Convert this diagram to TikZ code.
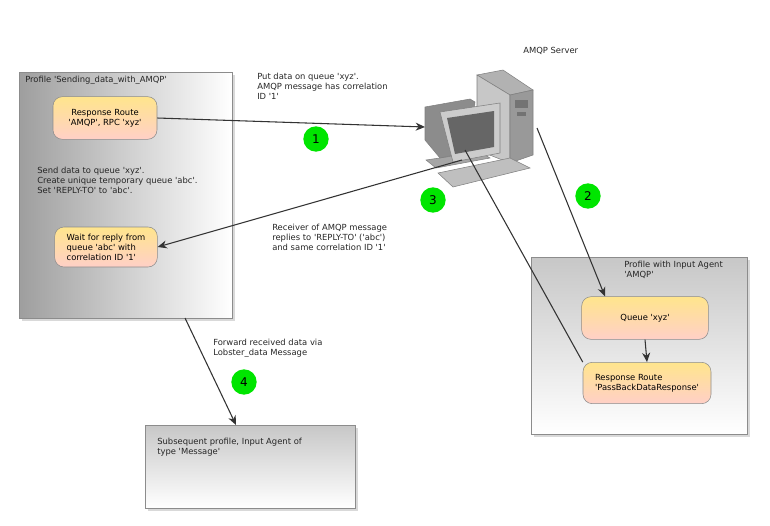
\documentclass[tikz,border=0pt]{standalone}
\usepackage{fontspec}
\setmainfont{DejaVu Sans}
\usetikzlibrary{arrows.meta,shadows}
\newcommand\sq{\textquotesingle}
\begin{document}
\begin{tikzpicture}[x=0.75pt,y=-0.75pt,
  txt/.style={font=\fontsize{6.3}{7.6}\selectfont,align=left,inner sep=0,text=black!85},
  prof/.style={draw=black!45,left color=black!38,right color=white,drop shadow={shadow xshift=2pt,shadow yshift=-2pt,opacity=0.3}},
  prof2/.style={draw=black!45,top color=black!22,bottom color=white,drop shadow={shadow xshift=2pt,shadow yshift=-2pt,opacity=0.3}},
  act/.style={draw=black!45,rounded corners=7pt,top color=yellow!55!orange!45,bottom color=orange!30!red!22,
     minimum height=32pt,font=\fontsize{6.3}{7.6}\selectfont,align=left,inner sep=2pt},
  num/.style={circle,fill=green!90!black,minimum size=19pt,inner sep=0,font=\fontsize{9}{10}\selectfont},
  arr/.style={draw=black!80,line width=0.8pt,-{Stealth[length=7pt,width=6pt]}},
  ln/.style={draw=black!80,line width=0.8pt}]
\useasboundingbox (0,0) rectangle (770,525);
% left profile
\path[prof] (19,72) rectangle (232,318);
\node[txt,anchor=north west] (t1) at (25,76) {Profile \sq Sending\_data\_with\_AMQP\sq};
\node[act,minimum width=78pt,align=center] (rr) at (105,118) {Response Route\\\sq AMQP\sq, RPC \sq xyz\sq};
\node[txt,anchor=north west] (t2) at (37,167) {Send data to queue \sq xyz\sq.\\Create unique temporary queue \sq abc\sq.\\Set \sq REPLY-TO\sq\ to \sq abc\sq.};
\node[act,minimum width=77pt,minimum height=30pt] (wt) at (106,247) {Wait for reply from\\queue \sq abc\sq\ with\\correlation ID \sq 1\sq};
% right profile
\path[prof2] (531,257) rectangle (747,434);
\node[txt,anchor=north west] (t3) at (624,261) {Profile with Input Agent\\\sq AMQP\sq};
\node[act,minimum width=95pt] (q) at (645,318) {\hfill Queue \sq xyz\sq\hfill\null};
\node[act,minimum width=96pt,minimum height=31pt] (pb) at (647,383) {Response Route\\\sq PassBackDataResponse\sq};
% subsequent
\path[prof2] (145,425) rectangle (355,508);
\node[txt,anchor=north west] (t4) at (157,438) {Subsequent profile, Input Agent of\\type \sq Message\sq};
% server
\node[txt,anchor=north west] (srv) at (523,47) {AMQP Server};
\fill[black!30,draw=black!50] (477,75) -- (503,70) -- (533,90) -- (510,95) -- cycle;
\fill[black!22,draw=black!50] (477,75) -- (510,95) -- (510,163) -- (477,150) -- cycle;
\fill[black!40,draw=black!50] (510,95) -- (533,90) -- (533,155) -- (510,163) -- cycle;
\fill[black!55] (515,100) rectangle (528,108);
\fill[black!55] (517,112) rectangle (526,116);
\fill[black!35,draw=black!50] (426,160) -- (480,152) -- (490,158) -- (436,168) -- cycle;
\fill[black!45,draw=black!50] (425,107) -- (470,99) -- (475,102) -- (470,152) -- (440,158) -- (425,140) -- cycle;
\fill[black!20,draw=black!50] (440,112) -- (500,103) -- (500,153) -- (453,162) -- cycle;
\fill[black!60] (447,118) -- (494,111) -- (494,147) -- (455,154) -- cycle;
\fill[black!25,draw=black!50] (438,173) -- (510,158) -- (530,168) -- (453,187) -- cycle;
\coordinate (pcL) at (425,127);
\coordinate (pcA) at (462,160);
\coordinate (pcB) at (465,150);
\coordinate (pcT) at (537,128);
% labels
\node[txt,anchor=north west] (l1) at (257,73) {Put data on queue \sq xyz\sq.\\AMQP message has correlation\\ID \sq 1\sq};
\node[txt,anchor=north west] (l2) at (272,224) {Receiver of AMQP message\\replies to \sq REPLY-TO\sq\ (\sq abc\sq)\\and same correlation ID \sq 1\sq};
\node[txt,anchor=north west] (l3) at (213,339) {Forward received data via\\Lobster\_data Message};
% connectors
\draw[arr] (rr.east) -- (pcL);
\draw[arr] (pcA) -- (wt.east);
\draw[arr] (pcT) -- (q.north west -| 605,0);
\draw[ln] (pcB) -- (pb.north west);
\draw[arr] (q.south) -- (pb.north);
\coordinate (lb) at (185,318);
\draw[arr] (lb) -- (236,425);
% numbers
\node[num] (n1) at (316,139) {1};
\node[num] (n2) at (588,196) {2};
\node[num] (n3) at (433,200) {3};
\node[num] (n4) at (244,382) {4};
\end{tikzpicture}
\end{document}
